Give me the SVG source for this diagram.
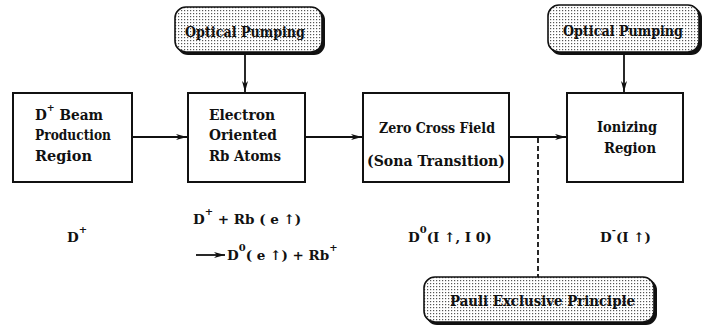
<svg xmlns="http://www.w3.org/2000/svg" width="710" height="326" viewBox="0 0 710 326">
<defs>
<pattern id="dots" width="3" height="3" patternUnits="userSpaceOnUse">
<rect width="3" height="3" fill="#fff"/>
<rect x="1" y="1" width="1.2" height="1.2" fill="#555"/>
</pattern>
<marker id="ah" markerWidth="12" markerHeight="8" refX="11" refY="4" orient="auto" markerUnits="userSpaceOnUse">
<path d="M0,1 L11,4 L0,7 L3,4 Z" fill="#111"/>
</marker>
<style>
.box{fill:#fff;stroke:#111;stroke-width:2}
.pill{fill:url(#dots);stroke:#111;stroke-width:1.6}
.shadow{fill:#111}
.t{font-family:"DejaVu Serif",serif;font-weight:bold;font-size:15px;fill:#111}
.b{font-size:14.5px}
.f{font-size:13.5px}
.ln{stroke:#111;stroke-width:1.8;fill:none}
.sup{font-size:10px}
</style>
</defs>
<rect width="710" height="326" fill="#fff"/>
<g id="pump1">
<rect class="shadow" x="177" y="9" width="148" height="46" rx="11"/>
<rect class="pill" x="175" y="7" width="147" height="45" rx="11"/>
<text class="t" x="185" y="37" textLength="120" lengthAdjust="spacingAndGlyphs">Optical Pumping</text>
</g>
<g id="pump2">
<rect class="shadow" x="550" y="7" width="152" height="48" rx="11"/>
<rect class="pill" x="548" y="5" width="151" height="47" rx="11"/>
<text class="t" x="563" y="36" textLength="120" lengthAdjust="spacingAndGlyphs">Optical Pumping</text>
</g>
<g id="pauli">
<rect class="shadow" x="426" y="279" width="231" height="46" rx="11"/>
<rect class="pill" x="424" y="277" width="230" height="45" rx="11"/>
<text class="t" x="450" y="306" textLength="185" lengthAdjust="spacingAndGlyphs">Pauli Exclusive Principle</text>
</g>

<g id="source">
<rect class="box" x="13" y="93" width="119" height="89"/>
<text class="t b" x="35" y="120" textLength="68" lengthAdjust="spacingAndGlyphs">D<tspan class="sup" dy="-9">+</tspan><tspan dy="9"> Beam</tspan></text>
<text class="t b" x="35" y="140" textLength="76" lengthAdjust="spacingAndGlyphs">Production</text>
<text class="t b" x="35" y="161" textLength="57" lengthAdjust="spacingAndGlyphs">Region</text>
</g>
<g id="rb">
<rect class="box" x="188" y="93" width="117" height="89"/>
<text class="t b" x="209" y="120" textLength="66" lengthAdjust="spacingAndGlyphs">Electron</text>
<text class="t b" x="209" y="140" textLength="68" lengthAdjust="spacingAndGlyphs">Oriented</text>
<text class="t b" x="209" y="161" textLength="72" lengthAdjust="spacingAndGlyphs">Rb Atoms</text>
</g>
<g id="zero">
<rect class="box" x="363" y="93" width="146" height="89"/>
<text class="t b" x="379" y="133" textLength="116" lengthAdjust="spacingAndGlyphs">Zero Cross Field</text>
<text class="t b" x="367" y="166" textLength="138" lengthAdjust="spacingAndGlyphs">(Sona Transition)</text>
</g>
<g id="ion">
<rect class="box" x="567" y="93" width="116" height="89"/>
<text class="t b" x="597" y="132" textLength="60" lengthAdjust="spacingAndGlyphs">Ionizing</text>
<text class="t b" x="604" y="153" textLength="52" lengthAdjust="spacingAndGlyphs">Region</text>
</g>

<g id="connectors">
<line class="ln" x1="132" y1="137" x2="187" y2="137" marker-end="url(#ah)"/>
<line class="ln" x1="305" y1="137" x2="362" y2="137" marker-end="url(#ah)"/>
<line class="ln" x1="509" y1="137" x2="566" y2="137" marker-end="url(#ah)"/>
<line class="ln" x1="245" y1="54" x2="245" y2="92" marker-end="url(#ah)"/>
<line class="ln" x1="624" y1="54" x2="624" y2="92" marker-end="url(#ah)"/>
<line class="ln" x1="538" y1="138" x2="538" y2="277" stroke-dasharray="5,3"/>
</g>

<g id="labels">
<text class="t f" x="67" y="242">D<tspan class="sup" dy="-9">+</tspan></text>
<text class="t f" x="193" y="224">D<tspan class="sup" dy="-9">+</tspan><tspan dy="9"> + Rb ( e ↑)</tspan></text>
<line class="ln" x1="196" y1="255" x2="225" y2="255" marker-end="url(#ah)"/>
<text class="t f" x="227" y="260">D<tspan class="sup" dy="-9">0</tspan><tspan dy="9">( e ↑) + Rb</tspan><tspan class="sup" dy="-9">+</tspan></text>
<text class="t f" x="408" y="242">D<tspan class="sup" dy="-9">0</tspan><tspan dy="9">(I ↑, I 0)</tspan></text>
<text class="t f" x="600" y="242">D<tspan class="sup" dy="-9">-</tspan><tspan dy="9">(I ↑)</tspan></text>
</g>
</svg>
